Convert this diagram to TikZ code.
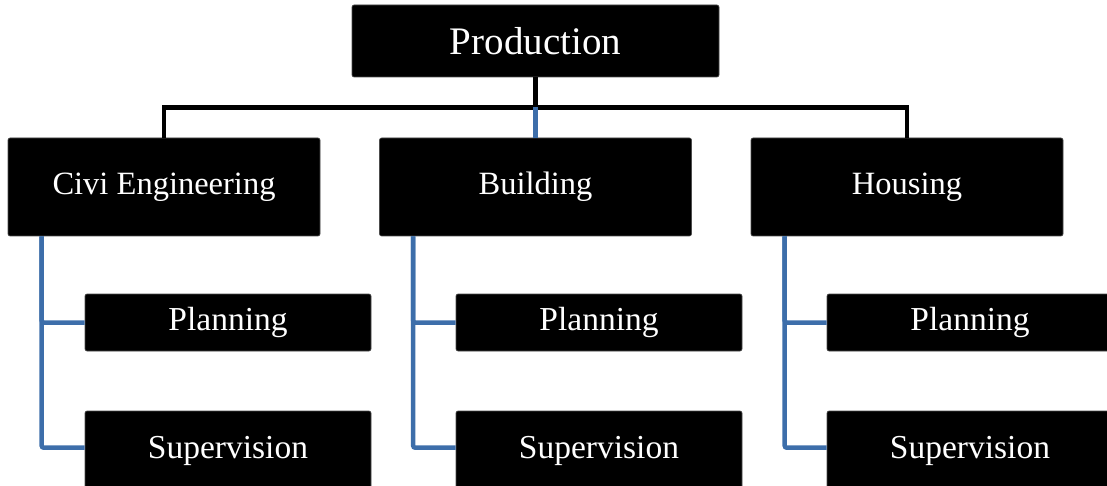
\documentclass[tikz,border=0pt]{standalone}
\usepackage{fontspec}
\setmainfont{Liberation Serif}
\definecolor{linkblue}{RGB}{61,110,170}
\tikzset{
  box/.style={fill=black,draw=black!70,line width=0.6pt,rounded corners=2pt,text=white,inner sep=0pt,align=center},
  topbox/.style={box,minimum width=367pt,minimum height=72pt,font=\fontsize{39}{41}\selectfont},
  unitbox/.style={box,minimum width=312pt,minimum height=98pt,font=\fontsize{32.5}{34}\selectfont},
  subbox/.style={box,minimum width=286pt,font=\fontsize{33.5}{35}\selectfont},
  tree/.style={line width=4.5pt,black},
  link/.style={line width=4.5pt,linkblue,rounded corners=2pt}
}
\begin{document}
\begin{tikzpicture}[x=1pt,y=-1pt]
    \useasboundingbox (0,0) rectangle (1107,486);
    \clip (0,0) rectangle (1107,486);
    \node[topbox] (prod) at (535.5,41) {Production};
    \node[unitbox] (civi) at (164,187) {Civi Engineering};
    \node[unitbox] (build) at (535.5,187) {Building};
    \node[unitbox] (house) at (907,187) {Housing};
    % second level: planning centred, supervision runs off the page
    \foreach \u/\x in {civi/228,build/599,house/970} {
        \node[subbox,minimum height=57pt] (plan-\u) at (\x,322.5) {Planning};
        \node[subbox,text height=47pt,text depth=38pt,anchor=base] (sup-\u) at (\x,458) {Supervision};
        \coordinate (trunk-\u) at ([xshift=34pt]\u.south west);
        \draw[link] (trunk-\u) |- (plan-\u.west);
        \draw[link] (trunk-\u) |- ([yshift=-37pt]sup-\u.north west);
    }
    \coordinate (hub) at (535.5,107.5);
    \draw[tree] (prod.south) -- (hub);
    \draw[tree] (civi.north) |- (hub) -| (house.north);
    \draw[link] (hub) -- (build.north);
\end{tikzpicture}
\end{document}
